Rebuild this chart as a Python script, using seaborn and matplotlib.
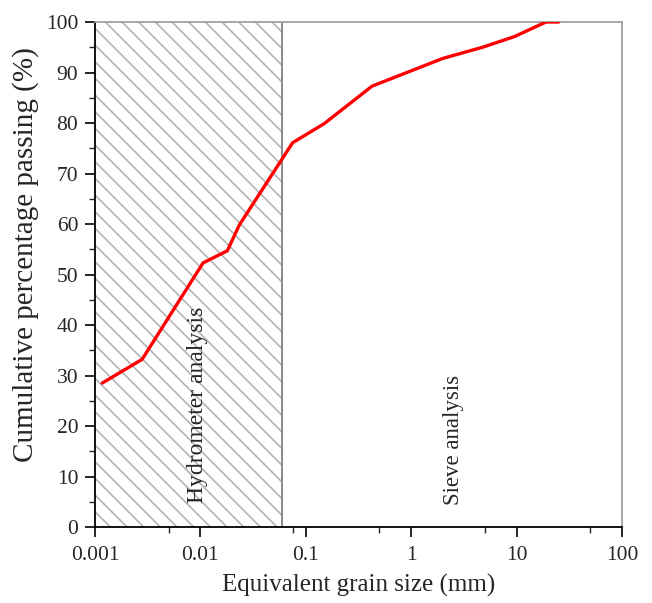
import numpy as np
import pandas as pd
import matplotlib
matplotlib.use('Agg')
import matplotlib.pyplot as plt
import matplotlib.ticker as mticker
import seaborn as sns

# grain size distribution
grain_size_mm = [0.00117, 0.0028, 0.0106, 0.018, 0.0234, 0.075, 0.15, 0.425, 2.0, 4.75, 9.5, 19.0, 25.0]
percent_passing = [28.5, 33.2, 52.3, 54.7, 59.8, 76.1, 79.9, 87.3, 92.8, 95.0, 97.1, 100.0, 100.0]

hydrometer_limit = 0.06
x_ticks = [0.001, 0.01, 0.1, 1, 10, 100]
x_tick_labels = ['0.001', '0.01', '0.1', '1', '10', '100']
y_ticks = list(range(0, 101, 10))

sns.set_style('ticks')
plt.rcParams['font.family'] = ['Liberation Serif', 'DejaVu Serif']
plt.rcParams['hatch.linewidth'] = 1.2

df = pd.DataFrame({'size': grain_size_mm, 'passing': percent_passing})

fig = plt.figure(figsize=(6.52, 6.03), dpi=100)
ax = fig.add_axes([0.1457, 0.126, 0.8083, 0.8375])

# hatched hydrometer zone, with a darker border line
ax.axvspan(0.001, hydrometer_limit, facecolor='white', edgecolor='#b4b4b4',
           hatch='\\\\', linewidth=0, zorder=1)
ax.axvline(hydrometer_limit, color='#8a8a8a', linewidth=1.4, zorder=2)

sns.lineplot(data=df, x='size', y='passing', color='red', linewidth=2.4,
             sort=False, ax=ax, zorder=3)

ax.set_xscale('log')
ax.set_xlim(0.001, 100)
ax.set_ylim(0, 100)
ax.set_xticks(x_ticks)
ax.set_xticklabels(x_tick_labels)
ax.xaxis.set_minor_locator(mticker.FixedLocator([0.005, 0.075, 0.5, 5, 50]))
ax.xaxis.set_minor_formatter(mticker.NullFormatter())
ax.set_yticks(y_ticks)
ax.yaxis.set_minor_locator(mticker.MultipleLocator(5))

ax.tick_params(axis='both', which='major', direction='out', length=7, width=1.2,
               labelsize=15.5, color='black', pad=5)
ax.tick_params(axis='x', which='major', pad=7)
ax.tick_params(axis='both', which='minor', direction='out', length=4, width=1.0)

for side in ['left', 'bottom']:
    ax.spines[side].set_color('black')
    ax.spines[side].set_linewidth(1.3)
for side in ['top', 'right']:
    ax.spines[side].set_color('#a0a0a0')
    ax.spines[side].set_linewidth(1.3)
    ax.spines[side].set_visible(True)

ax.set_xlabel('Equivalent grain size (mm)', fontsize=18, labelpad=6)
ax.set_ylabel('Cumulative percentage passing (%)', fontsize=21)
ax.yaxis.set_label_coords(-0.106, 0.54)

ax.text(0.0093, 24.2, 'Hydrometer analysis', rotation=90, ha='center', va='center',
        fontsize=17, zorder=4)
ax.text(2.5, 17.2, 'Sieve analysis', rotation=90, ha='center', va='center',
        fontsize=16.5, zorder=4)

fig.savefig('out.png', dpi=100)
